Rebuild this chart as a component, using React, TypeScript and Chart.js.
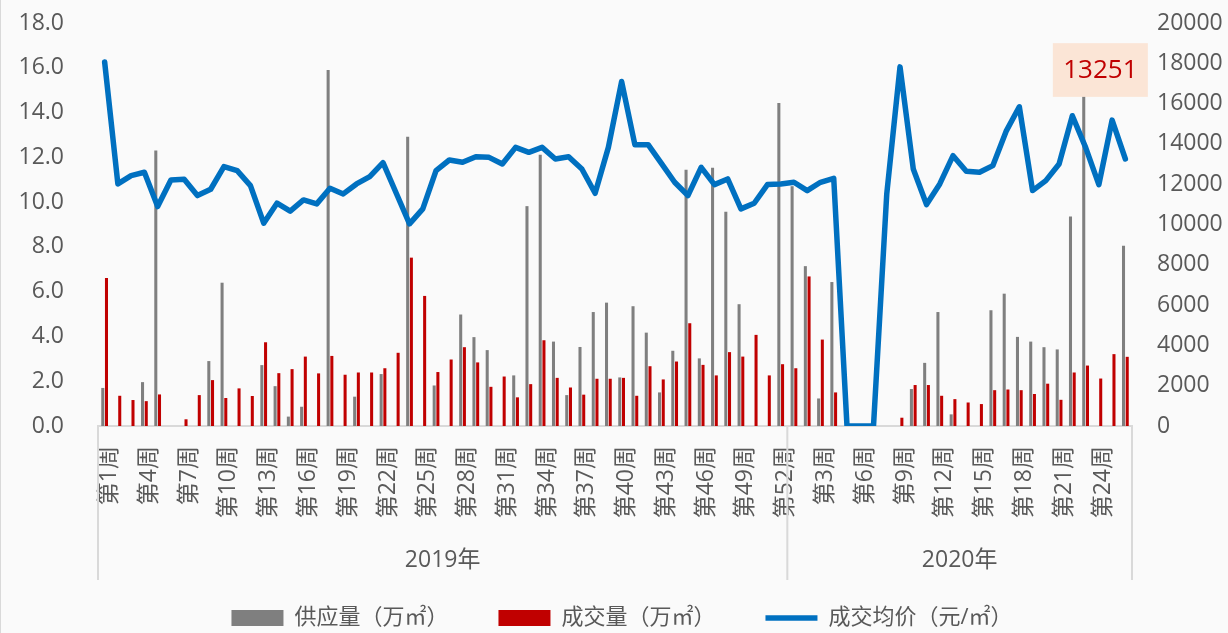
import React, { useEffect, useRef } from 'react';
import { Chart, registerables } from 'chart.js';

Chart.register(...registerables);

const years = ['2019年', '2020年'];
const weeksPerYear = [52, 26];
const categories: string[] = weeksPerYear.flatMap((n) =>
  Array.from({ length: n }, (_, i) => `第${i + 1}周`)
);

// 供应量（万㎡）
const supply = [
  1.7, 0, 0, 1.96, 12.3, 0, 0, 0, 2.9, 6.4,
  0, 0, 2.72, 1.78, 0.42, 0.86, 0, 15.9, 0, 1.31,
  0, 2.32, 0, 12.92, 0, 1.81, 0, 4.98, 3.97, 3.39,
  0, 2.26, 9.82, 12.12, 3.77, 1.38, 3.53, 5.09, 5.51, 2.17,
  5.35, 4.17, 1.5, 3.36, 11.44, 3.02, 11.53, 9.57, 5.44, 0,
  0, 14.43, 10.71, 7.14, 1.23, 6.43, 0, 0, 0, 0,
  0, 1.65, 2.82, 5.09, 0.52, 0, 0, 5.17, 5.91, 3.98,
  3.77, 3.52, 3.42, 9.36, 14.8, 0, 0, 8.05,
];

// 成交量（万㎡）
const deal = [
  6.61, 1.35, 1.16, 1.11, 1.41, 0, 0.3, 1.38, 2.05, 1.25,
  1.68, 1.34, 3.74, 2.36, 2.54, 3.1, 2.35, 3.13, 2.29, 2.39,
  2.39, 2.58, 3.27, 7.52, 5.81, 2.41, 2.97, 3.52, 2.84, 1.75,
  2.21, 1.28, 1.87, 3.83, 2.15, 1.72, 1.4, 2.11, 2.11, 2.15,
  1.35, 2.67, 2.08, 2.88, 4.59, 2.73, 2.26, 3.3, 3.1, 4.07,
  2.26, 2.76, 2.58, 6.68, 3.86, 1.5, 0, 0, 0, 0,
  0.37, 1.83, 1.83, 1.35, 1.2, 1.05, 0.98, 1.6, 1.63, 1.6,
  1.43, 1.89, 1.17, 2.39, 2.7, 2.12, 3.21, 3.09,
];

// 成交均价（元/㎡）
const price = [
  18069, 12013, 12426, 12591, 10891, 12211, 12244, 11436, 11749, 12871,
  12673, 11931, 10066, 11056, 10660, 11221, 11023, 11799, 11518, 12013,
  12376, 13069, 11551, 10033, 10776, 12673, 13201, 13086, 13366, 13333,
  13003, 13828, 13581, 13828, 13251, 13366, 12756, 11551, 13828, 17096,
  13960, 13960, 13036, 12096, 11436, 12838, 11980, 12261, 10776, 11056,
  11980, 12013, 12096, 11683, 12096, 12294, 0, 0, 0, 11518,
  17822, 12756, 10990, 12013, 13416, 12640, 12591, 12921, 14620, 15842,
  11683, 12178, 13003, 15396, 13828, 11980, 15182, 13251,
];

const seriesNames = ['供应量（万㎡）', '成交量（万㎡）', '成交均价（元/㎡）'];
const leftAxis = { min: 0, max: 18, step: 2 };
const rightAxis = { min: 0, max: 20000, step: 2000 };
const calloutIndex = 75;

const TEXT = '#595959';
const FONT = '"Open Sans", "Noto Sans CJK SC", sans-serif';

const yearGroupPlugin = {
  id: 'yearGroups',
  afterDraw(chart: any) {
    const x = chart.scales.x;
    const area = chart.chartArea;
    const ctx = chart.ctx;
    const half = (x.getPixelForValue(1) - x.getPixelForValue(0)) / 2;
    const edges: number[] = [];
    let start = 0;
    weeksPerYear.forEach((n) => {
      edges.push(x.getPixelForValue(start) - half);
      start += n;
    });
    edges.push(x.getPixelForValue(start - 1) + half);
    ctx.save();
    ctx.strokeStyle = '#d9d9d9';
    ctx.lineWidth = 2;
    edges.forEach((ex) => {
      ctx.beginPath();
      ctx.moveTo(ex, area.bottom);
      ctx.lineTo(ex, area.bottom + 154);
      ctx.stroke();
    });
    ctx.fillStyle = TEXT;
    ctx.font = `23px ${FONT}`;
    ctx.textAlign = 'center';
    ctx.textBaseline = 'middle';
    years.forEach((y, i) => {
      ctx.fillText(y, (edges[i] + edges[i + 1]) / 2, area.bottom + 134);
    });
    ctx.restore();
  },
};

const calloutPlugin = {
  id: 'callout',
  afterDatasetsDraw(chart: any) {
    const x = chart.scales.x;
    const yl = chart.scales.y;
    const ctx = chart.ctx;
    const cx = x.getPixelForValue(calloutIndex) + 1.5;
    const top = yl.getPixelForValue(17.1);
    const bottom = yl.getPixelForValue(14.7);
    const w = 95;
    ctx.save();
    ctx.fillStyle = '#fbe5d6';
    ctx.fillRect(cx - w / 2, top, w, bottom - top);
    ctx.fillStyle = '#c00000';
    ctx.font = `26px ${FONT}`;
    ctx.textAlign = 'center';
    ctx.textBaseline = 'middle';
    ctx.fillText(String(price[price.length - 1]), cx, (top + bottom) / 2 + 1);
    ctx.restore();
  },
};

const fitLeft = (s: any) => {
  s.width = 83;
  s.paddingTop = 12;
  s.paddingBottom = 12;
};
const fitRight = (s: any) => {
  s.width = 97;
  s.paddingTop = 12;
  s.paddingBottom = 12;
};

export default function App() {
  const ref = useRef<HTMLCanvasElement | null>(null);

  useEffect(() => {
    if (!ref.current) return;
    const chart = new Chart(ref.current, {
      type: 'bar',
      data: {
        labels: categories,
        datasets: [
          {
            type: 'bar',
            label: seriesNames[0],
            data: supply,
            backgroundColor: '#7f7f7f',
            borderWidth: 0,
            categoryPercentage: 0.56,
            barPercentage: 0.82,
            pointStyle: 'rect',
            yAxisID: 'y',
            order: 1,
          } as any,
          {
            type: 'bar',
            label: seriesNames[1],
            data: deal,
            backgroundColor: '#c00000',
            borderWidth: 0,
            categoryPercentage: 0.56,
            barPercentage: 0.82,
            pointStyle: 'rect',
            yAxisID: 'y',
            order: 1,
          } as any,
          {
            type: 'line',
            label: seriesNames[2],
            data: price,
            borderColor: '#0070c0',
            backgroundColor: '#0070c0',
            borderWidth: 5.5,
            borderCapStyle: 'round',
            borderJoinStyle: 'round',
            pointRadius: 0,
            pointHoverRadius: 0,
            pointStyle: 'line',
            tension: 0,
            yAxisID: 'y1',
            order: 0,
          } as any,
        ],
      },
      options: {
        responsive: false,
        animation: false,
        layout: { padding: { top: 23, left: 14, right: 0, bottom: 0 } },
        plugins: {
          tooltip: { enabled: false },
          legend: {
            position: 'bottom',
            labels: {
              color: TEXT,
              font: { size: 22, family: FONT },
              usePointStyle: true,
              pointStyleWidth: 52,
              boxWidth: 52,
              boxHeight: 16,
              padding: 50,
              sort: (a: any, b: any) => a.datasetIndex - b.datasetIndex,
            },
          },
        },
        scales: {
          x: {
            grid: { display: false, drawTicks: false },
            border: { display: true, color: '#d9d9d9', width: 2 },
            ticks: {
              autoSkip: false,
              maxRotation: 90,
              minRotation: 90,
              padding: 20,
              labelOffset: 5,
              color: TEXT,
              font: { size: 23, family: FONT },
              callback: (_v: any, i: number) => (i % 3 === 0 ? categories[i] : ''),
            },
            afterFit: (s: any) => {
              s.height = 131;
            },
          },
          y: {
            position: 'left',
            min: leftAxis.min,
            max: leftAxis.max,
            grid: { display: false, drawTicks: false },
            border: { display: false },
            ticks: {
              stepSize: leftAxis.step,
              padding: 34,
              color: TEXT,
              font: { size: 23, family: FONT },
              callback: (v: any) => Number(v).toFixed(1),
            },
            afterFit: fitLeft,
          },
          y1: {
            position: 'right',
            min: rightAxis.min,
            max: rightAxis.max,
            grid: { display: false, drawTicks: false },
            border: { display: false },
            ticks: {
              stepSize: rightAxis.step,
              padding: 25,
              color: TEXT,
              font: { size: 23, family: FONT },
              callback: (v: any) => String(v),
            },
            afterFit: fitRight,
          },
        },
      },
      plugins: [yearGroupPlugin, calloutPlugin],
    } as any);
    return () => chart.destroy();
  }, []);

  return (
    <div
      style={{
        position: 'fixed',
        left: 0,
        top: 0,
        width: 1228,
        height: 633,
        overflow: 'hidden',
        background: '#fafafa',
        borderLeft: '1px solid #d9d9d9',
        boxSizing: 'border-box',
      }}
    >
      <canvas ref={ref} width={1228} height={639} style={{ display: 'block', position: 'absolute', left: 0, top: 0 }} />
    </div>
  );
}
